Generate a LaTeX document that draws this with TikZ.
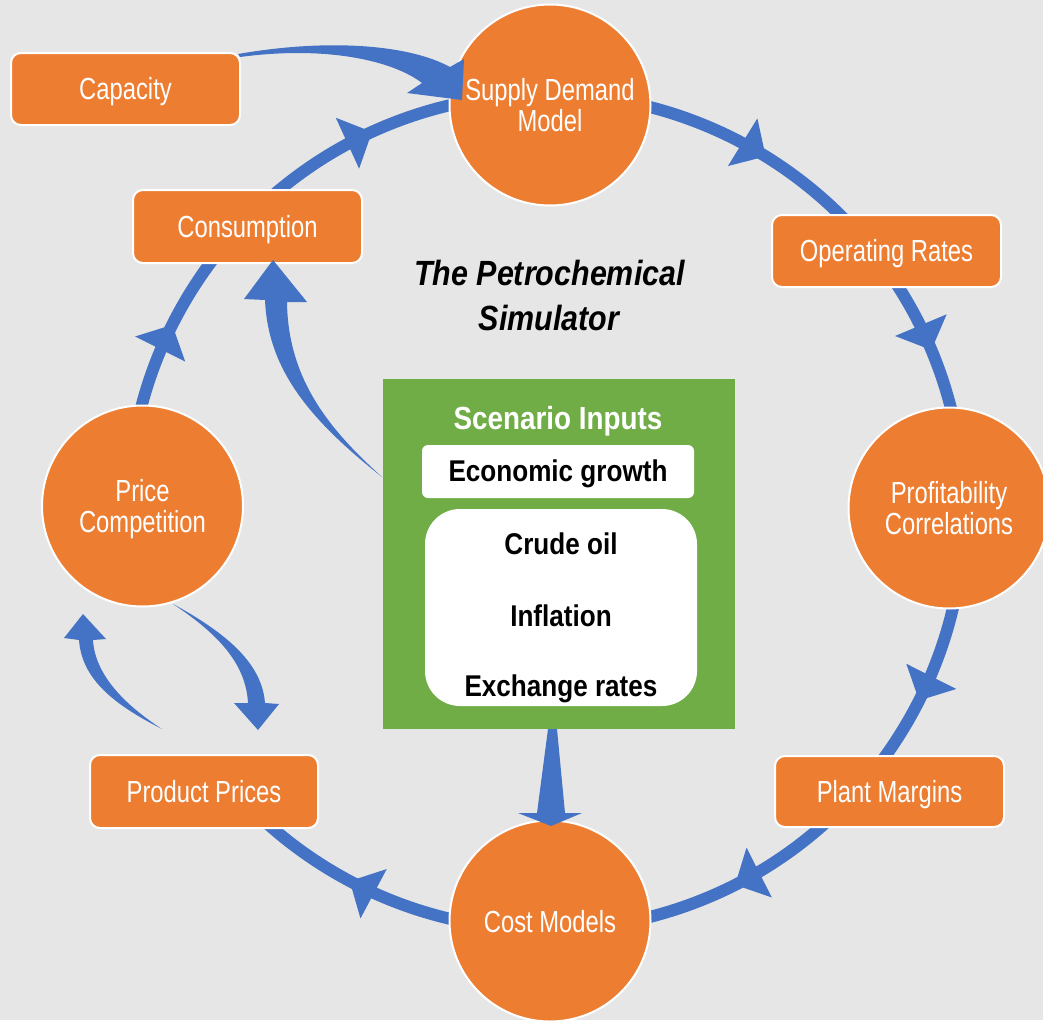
\documentclass[tikz,border=0pt]{standalone}
\usepackage{fontspec}
\newfontfamily\nfont{Liberation Sans}[FakeStretch=0.78]
\newfontfamily\bfont{Liberation Sans}[FakeStretch=0.87]
\definecolor{bgc}{HTML}{E6E6E6}
\definecolor{orng}{HTML}{ED7D31}
\definecolor{rblue}{HTML}{4472C4}
\definecolor{grn}{HTML}{70AD47}
\begin{document}
\begin{tikzpicture}[x=1pt,y=1pt,
  obox/.style={rectangle, rounded corners=10pt, fill=orng, draw=white, line width=2pt,
    minimum width=229pt, minimum height=72pt, text=white, inner sep=0pt,
    font=\nfont\fontsize{30.5}{31}\selectfont, text height=21.8pt, text depth=0pt},
  ocirc/.style={circle, fill=orng, draw=white, line width=2pt, minimum size=201pt,
    inner sep=0pt, text=white, align=center,
    font=\nfont\fontsize{30.5}{31}\selectfont, text depth=0pt},
  wbox/.style={rectangle, fill=white, draw=none, inner sep=0pt, minimum width=272pt},
  btext/.style={font=\bfont\bfseries\fontsize{30}{31}\selectfont, text=black,
    text height=21.5pt, text depth=0pt, inner sep=0pt},
  ttext/.style={font=\bfont\bfseries\itshape\fontsize{35}{45}\selectfont, text=black,
    text height=25pt, text depth=0pt, inner sep=0pt},
  ringline/.style={draw=rblue, line width=12pt},
  tarrow/.style={fill=rblue}
]
\useasboundingbox (0,0) rectangle (1043,-1020);
\clip (0,0) rectangle (1043,-1020);
\fill[bgc] (0,0) rectangle (1043,-1020);

% ring
\coordinate (O) at (546,-512);
\draw[ringline] (O) ++(190:418pt) arc[start angle=190, end angle=-142, radius=418pt];
\begin{scope}[shift={(O)}]
  \foreach \t in {153.4,114.6,58.3,22.8,-26.8,-63.1,-118}{
    \fill[rblue, rotate=\t] (418,0) -- (390,27) -- (446,27) -- cycle;
  }
\end{scope}

% nodes
\node[obox] (cap) at (125.5,-89) {Capacity};
\node[ocirc] (sdm) at (550,-105) {Supply Demand\\Model};
\node[obox, minimum height=73pt] (cons) at (247.5,-226.5) {Consumption};
\node[obox] (oper) at (886.5,-251) {Operating Rates};
\node[ocirc] (prof) at (949,-508) {Profitability\\Correlations};
\node[ocirc] (price) at (142.5,-506) {Price\\Competition};
\node[obox, minimum width=228pt, minimum height=73pt] (prod) at (204,-791.5) {Product Prices};
\node[obox, minimum height=71pt] (plant) at (889.5,-791.5) {Plant Margins};
\node[ocirc] (cost) at (550,-921) {Cost Models};

% scenario inputs
\node[rectangle, fill=grn, minimum width=352pt, minimum height=350pt, inner sep=0pt] (green) at (559,-554) {};
\node[font=\bfont\bfseries\fontsize{32}{33}\selectfont, text=white, text height=22.9pt, text depth=0pt, inner sep=0pt] (scen) at (558,-418.5) {Scenario Inputs};
\node[wbox, rounded corners=6pt, minimum height=53pt] (econ) at (558,-471.5) {};
\node[btext] (econt) at (558,-471) {Economic growth};
\node[wbox, rounded corners=35pt, minimum height=197pt] (inner) at (561,-607.5) {};
\node[btext] (crude) at (561,-544) {Crude oil};
\node[btext] (infl) at (561,-615.5) {Inflation};
\node[btext] (exch) at (561,-685.5) {Exchange rates};

% title
\node[ttext] (t1) at (549.5,-272.5) {The Petrochemical};
\node[ttext] (t2) at (549,-317.5) {Simulator};

% tapered arrows
% Capacity -> Supply Demand Model
\fill[tarrow] (238,-54) .. controls (330,-38) and (410,-45) .. (450,-67)
  -- (464,-59) -- (462,-100) -- (407,-93) -- (422,-83)
  .. controls (395,-62) and (330,-45) .. (240,-57) -- cycle;
% Scenario inputs -> Consumption
\fill[tarrow] (382,-477) .. controls (310,-420) and (268,-370) .. (265,-300)
  -- (244,-299) -- (273,-260) -- (307,-302) -- (287,-302)
  .. controls (288,-380) and (330,-430) .. (382,-477) -- cycle;
% Price Competition -> Product Prices
\fill[tarrow] (173,-604) .. controls (230,-635) and (262,-665) .. (265,-703)
  -- (279,-704) -- (258,-730) -- (234,-703) -- (248,-703)
  .. controls (246,-665) and (220,-635) .. (173,-604) -- cycle;
% Product Prices -> Price Competition
\fill[tarrow] (162,-729) .. controls (115,-705) and (82,-680) .. (79,-640)
  -- (64,-638) -- (83,-614) -- (106,-639) -- (93,-640)
  .. controls (95,-675) and (125,-705) .. (162,-729) -- cycle;
% Scenario inputs -> Cost Models
\fill[tarrow] (548,-729) -- (537,-813) -- (518,-813) -- (551,-826) -- (582,-813) -- (565,-813) -- (557,-729) -- cycle;
\end{tikzpicture}
\end{document}
